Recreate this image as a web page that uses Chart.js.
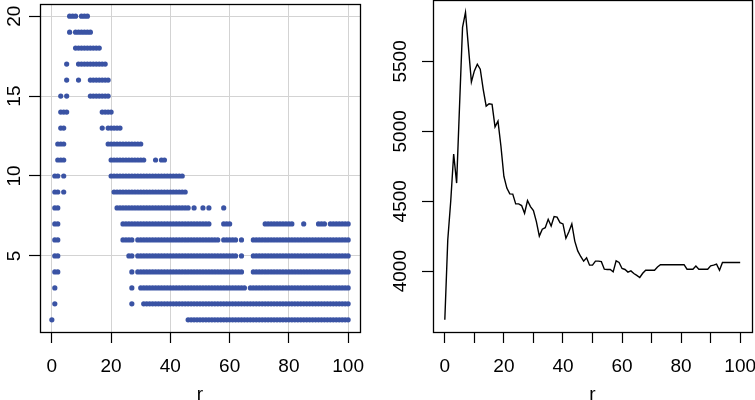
<!DOCTYPE html>
<html>
<head>
<meta charset="utf-8">
<script src="https://cdn.jsdelivr.net/npm/chart.js@4.4.1/dist/chart.umd.min.js"></script>
<style>
body{margin:0;background:#fff;}
#izq{position:absolute;left:0;top:0;}
#der{position:absolute;left:377px;top:0;}
</style>
</head>
<body>
<canvas id="izq" width="377" height="400"></canvas>
<canvas id="der" width="378" height="400"></canvas>
<script>
// panel izquierdo: para cada nivel y, los tramos de r con punto
const nivelesY = [1,2,3,4,5,6,7,8,9,10,11,12,13,14,15,16,17,18,19,20];
const tramosR = [
[[0,0],[46,100]],
[[1,1],[27,27],[31,100]],
[[1,1],[27,27],[30,65],[67,100]],
[[1,2],[27,27],[29,64],[68,100]],
[[1,2],[26,27],[29,62],[64,64],[68,100]],
[[1,2],[24,27],[29,56],[58,62],[64,64],[68,100]],
[[1,2],[24,53],[58,60],[72,81],[85,85],[90,92],[94,100]],
[[1,2],[22,46],[48,48],[51,51],[53,53],[58,58]],
[[1,2],[4,4],[21,45]],
[[1,2],[4,4],[20,44]],
[[2,4],[20,31],[35,35],[37,38]],
[[2,4],[19,30]],
[[3,4],[17,17],[19,23]],
[[3,5],[17,20]],
[[3,3],[5,5],[13,19]],
[[5,5],[9,9],[13,19]],
[[5,5],[9,18]],
[[8,16]],
[[6,6],[8,13]],
[[6,8],[10,12]]
];
const ticksXIzq = [0,20,40,60,80,100];
const ticksYIzq = [5,10,15,20];

// panel derecho: un valor por cada r = 0..100
const valoresLinea = [
3653,4223,4500,4838,4630,5190,5743,5851,5600,5353,
5432,5480,5444,5300,5180,5197,5193,5032,5073,4893,
4677,4594,4553,4551,4481,4481,4469,4414,4505,4462,
4433,4354,4251,4300,4311,4371,4323,4390,4386,4347,
4338,4235,4282,4338,4215,4145,4105,4072,4096,4043,
4043,4072,4072,4068,4014,4012,4012,3995,4074,4062,
4019,4012,3993,4002,3983,3970,3955,3985,4007,4007,
4007,4007,4030,4046,4046,4046,4046,4046,4046,4046,
4046,4046,4014,4014,4014,4036,4014,4014,4014,4014,
4038,4043,4050,4007,4062,4062,4062,4062,4062,4062,
4062
];
const ticksXDer = [0,10,20,30,40,50,60,70,80,90,100];
const etiquetasXDer = [0,20,40,60,80,100];
const ticksYDer = [4000,4500,5000,5500];

const colorPuntos = "#3a53a4";
const fuente = 19;

Chart.defaults.font.family = "'Liberation Sans', Arial, sans-serif";
Chart.defaults.color = "#000";

const puntosIzq = [];
nivelesY.forEach((y,i)=>{
    tramosR[i].forEach(([a,b])=>{
        for(let r=a;r<=b;r++) puntosIzq.push({x:r,y:y});
    });
});

const puntosDer = valoresLinea.map((v,r)=>({x:r,y:v}));

const caja = {
    id:"caja",
    afterDraw(chart){
        const {ctx,chartArea:a} = chart;
        ctx.save();
        ctx.strokeStyle = "#000";
        ctx.lineWidth = 1.3;
        ctx.strokeRect(Math.round(a.left)+0.5, Math.round(a.top)+0.5,
            Math.round(a.right-a.left), Math.round(a.bottom-a.top));
        ctx.restore();
    }
};

function ejeX(ticks, conGrid, etiquetas){
    return {
        type:"linear",
        min:-4,
        max:104,
        afterBuildTicks:s=>{ s.ticks = ticks.map(v=>({value:v})); },
        afterFit:s=>{ s.height = 68; s.paddingLeft = 0; s.paddingRight = 0; },
        border:{display:false},
        grid:{
            drawOnChartArea:conGrid,
            color:"#d3d3d3",
            tickColor:"#000",
            tickLength:11,
            tickWidth:1.2
        },
        ticks:{
            autoSkip:false,
            maxRotation:0,
            padding:12,
            font:{size:fuente},
            callback:v=> (!etiquetas || etiquetas.includes(v)) ? String(v) : ""
        },
        title:{display:true,text:"r",font:{size:fuente,lineHeight:0.6},padding:0}
    };
}

function ejeY(ticks, min, max, ancho, conGrid, pad){
    return {
        type:"linear",
        min:min,
        max:max,
        afterBuildTicks:s=>{ s.ticks = ticks.map(v=>({value:v})); },
        afterFit:s=>{ s.width = ancho; s.paddingTop = 0; s.paddingBottom = 0; },
        border:{display:false},
        grid:{
            drawOnChartArea:conGrid,
            color:"#d3d3d3",
            tickColor:"#000",
            tickLength:11,
            tickWidth:1.2
        },
        ticks:{
            minRotation:90,
            maxRotation:90,
            crossAlign:"center",
            padding:pad,
            font:{size:fuente},
            callback:v=>String(v)
        }
    };
}

new Chart(document.getElementById("izq"),{
    type:"scatter",
    data:{
        datasets:[{
            data:puntosIzq,
            backgroundColor:colorPuntos,
            borderWidth:0,
            pointRadius:2.6
        }]
    },
    options:{
        responsive:false,
        devicePixelRatio:1,
        animation:false,
        layout:{padding:{top:0,right:17,left:0,bottom:0}},
        plugins:{legend:{display:false},tooltip:{enabled:false}},
        scales:{
            x:ejeX(ticksXIzq,true,null),
            y:ejeY(ticksYIzq,0.24,20.76,40,true,4)
        }
    },
    plugins:[caja]
});

new Chart(document.getElementById("der"),{
    type:"scatter",
    data:{
        datasets:[{
            data:puntosDer,
            showLine:true,
            borderColor:"#000",
            borderWidth:1.4,
            pointRadius:0,
            tension:0
        }]
    },
    options:{
        responsive:false,
        devicePixelRatio:1,
        animation:false,
        layout:{padding:{top:0,right:3,left:0,bottom:0}},
        plugins:{legend:{display:false},tooltip:{enabled:false}},
        scales:{
            x:ejeX(ticksXDer,false,etiquetasXDer),
            y:ejeY(ticksYDer,3565,5939,56,false,0)
        }
    },
    plugins:[caja]
});
</script>
</body>
</html>
